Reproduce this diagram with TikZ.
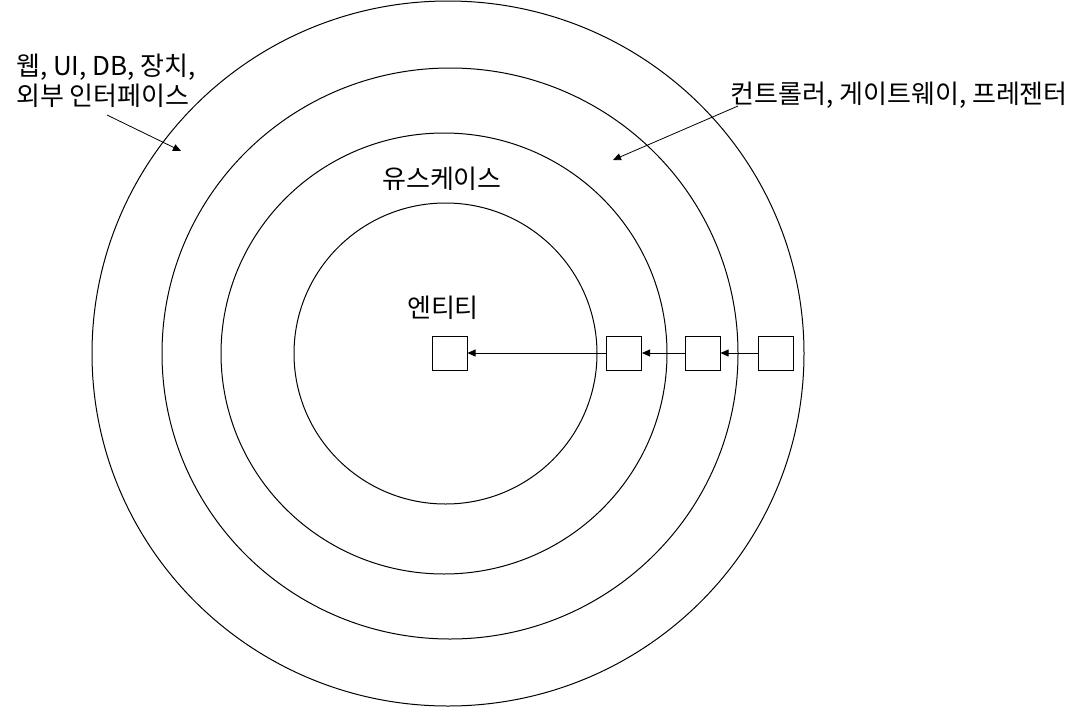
\documentclass[tikz,border=0pt]{standalone}
\usepackage{fontspec}
\setmainfont{Noto Sans CJK KR}
\usetikzlibrary{arrows.meta}
\tikzset{
  ring/.style={draw=black, line width=1pt},
  cell/.style={draw=black, line width=1pt, minimum width=35pt, minimum height=34pt, inner sep=0pt},
  link/.style={draw=black, line width=0.8pt, -{Triangle[length=8pt,width=7pt]}},
  lbl/.style={font=\fontsize{26}{30}\selectfont, inner sep=0pt, align=left}
}
\begin{document}
\begin{tikzpicture}[x=1pt,y=-1pt]
\useasboundingbox (0,0) rectangle (1084,707);
\draw[ring] (448,353.5) ellipse [x radius=356, y radius=352.5];
\draw[ring] (450,353.5) ellipse [x radius=288, y radius=285.5];
\draw[ring] (444,353.5) ellipse [x radius=223, y radius=220.5];
\draw[ring] (445.5,353.5) ellipse [x radius=151.5, y radius=150.5];

\node[lbl, anchor=west] (outer) at (16,81) {웹, UI, DB, 장치,\\외부 인터페이스};
\node[lbl, anchor=east] (ctrl) at (1068,95) {컨트롤러, 게이트웨이, 프레젠터};
\node[lbl] (uc) at (442,179) {유스케이스};
\node[lbl] (ent) at (443,308) {엔티티};

\coordinate (a1s) at (107,115);
\coordinate (a1e) at (181,151);
\coordinate (a2s) at (738,106);
\coordinate (a2e) at (613,160);
\draw[link] (a1s) -- (a1e);
\draw[link] (a2s) -- (a2e);

\node[cell] (b1) at (449.5,353) {};
\node[cell] (b2) at (624,353) {};
\node[cell] (b3) at (702.5,353) {};
\node[cell] (b4) at (776,353) {};
\draw[link] (b4.west) -- (b3.east);
\draw[link] (b3.west) -- (b2.east);
\draw[link] (b2.west) -- (b1.east);
\end{tikzpicture}
\end{document}
